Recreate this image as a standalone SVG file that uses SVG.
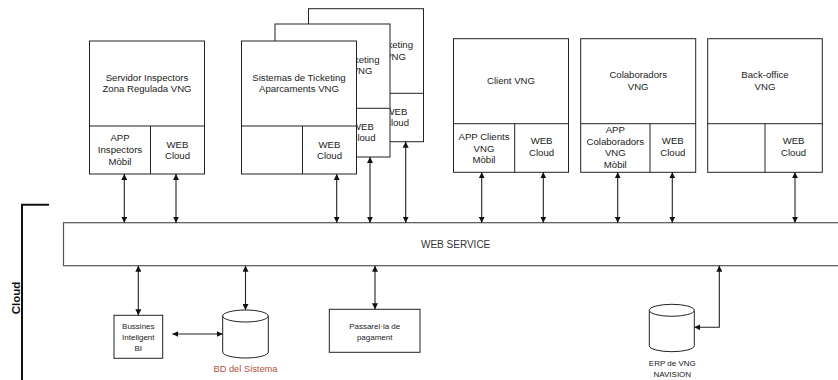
<svg xmlns="http://www.w3.org/2000/svg" width="838" height="380" viewBox="0 0 838 380">
<style>
.box{fill:#fff;stroke:#222;stroke-width:1}
.ln{fill:none;stroke:#222;stroke-width:1}
.t{font-family:"Liberation Sans",Arial,sans-serif;font-size:9.6px;fill:#222;text-anchor:middle}
.e{font-family:"Liberation Sans",Arial,sans-serif;font-size:9.6px;fill:#222;text-anchor:end}
.s{font-family:"Liberation Sans",Arial,sans-serif;font-size:8px;fill:#222;text-anchor:middle}
.c{fill:none;stroke:#222;stroke-width:1.1;marker-start:url(#ah);marker-end:url(#ah)}
</style>
<defs>
<marker id="ah" viewBox="0 0 10 10" refX="10" refY="5" markerWidth="6" markerHeight="6" markerUnits="userSpaceOnUse" orient="auto-start-reverse">
<path d="M0,0 L10,5 L0,10 z" fill="#111"/>
</marker>
</defs>
<rect x="0" y="0" width="838" height="380" fill="#fff"/>

<g id="cloud">
<path d="M49,204.7 H22 V380" fill="none" stroke="#111" stroke-width="2"/>
<text x="19.8" y="298" transform="rotate(-90 19.8 298)" style="font-family:'Liberation Sans',Arial,sans-serif;font-size:11.5px;font-weight:bold;fill:#111;text-anchor:middle">Cloud</text>
</g>

<g id="servidor-inspectors">
<rect class="box" x="89.5" y="41" width="115" height="133"/>
<path class="ln" d="M89.5,126 H204.5 M150.5,126 V174"/>
<text class="t" x="147" y="80.7">Servidor Inspectors</text>
<text class="t" x="147" y="91.7">Zona Regulada VNG</text>
<text class="t" x="120" y="140.7">APP</text>
<text class="t" x="120" y="152.7">Inspectors</text>
<text class="t" x="120" y="164.7">Mòbil</text>
<text class="t" x="177.5" y="147.7">WEB</text>
<text class="t" x="177.5" y="158.5">Cloud</text>
</g>

<g id="ticketing-3">
<rect class="box" x="308.5" y="8.7" width="115" height="133"/>
<path class="ln" d="M308.5,93.3 H423.5"/>
<text class="e" x="413" y="47.7">Ticketing</text>
<text class="e" x="406" y="60">VNG</text>
<text class="t" x="396.5" y="115">WEB</text>
<text class="t" x="396.5" y="126">Cloud</text>
</g>

<g id="ticketing-2">
<rect class="box" x="275" y="24" width="115" height="133"/>
<path class="ln" d="M275,108.3 H390"/>
<text class="e" x="379.5" y="63.4">Ticketing</text>
<text class="e" x="372.5" y="74.4">VNG</text>
<text class="t" x="363" y="130">WEB</text>
<text class="t" x="363" y="141">Cloud</text>
</g>

<g id="ticketing-1">
<rect class="box" x="241.5" y="41" width="115" height="133"/>
<path class="ln" d="M241.5,126 H356.5 M302.5,126 V174"/>
<text class="t" x="299" y="80.7">Sistemas de Ticketing</text>
<text class="t" x="299" y="91.7">Aparcaments VNG</text>
<text class="t" x="329.5" y="147.7">WEB</text>
<text class="t" x="329.5" y="158.5">Cloud</text>
</g>

<g id="client">
<rect class="box" x="453.5" y="38.7" width="115" height="133.6"/>
<path class="ln" d="M453.5,123.7 H568.5 M514.7,123.7 V172.3"/>
<text class="t" x="511" y="84">Client VNG</text>
<text class="t" x="484" y="140.1">APP Clients</text>
<text class="t" x="484" y="151.7">VNG</text>
<text class="t" x="484" y="163.1">Mòbil</text>
<text class="t" x="541.6" y="144.4">WEB</text>
<text class="t" x="541.6" y="156.1">Cloud</text>
</g>

<g id="colaboradors">
<rect class="box" x="580.7" y="38.7" width="115" height="133.6"/>
<path class="ln" d="M580.7,123.7 H695.7 M650,123.7 V172.3"/>
<text class="t" x="638.2" y="78.4">Colaboradors</text>
<text class="t" x="638.2" y="90.1">VNG</text>
<text class="t" x="615.3" y="133.4">APP</text>
<text class="t" x="615.3" y="145.1">Colaboradors</text>
<text class="t" x="615.3" y="156.1">VNG</text>
<text class="t" x="615.3" y="167.7">Mòbil</text>
<text class="t" x="672.8" y="144.4">WEB</text>
<text class="t" x="672.8" y="156.1">Cloud</text>
</g>

<g id="back-office">
<rect class="box" x="707.7" y="38.7" width="114.6" height="133.6"/>
<path class="ln" d="M707.7,123.7 H822.3 M765,123.7 V172.3"/>
<text class="t" x="765" y="78.4">Back-office</text>
<text class="t" x="765" y="90.1">VNG</text>
<text class="t" x="793.6" y="144.4">WEB</text>
<text class="t" x="793.6" y="156.1">Cloud</text>
</g>

<g id="web-service">
<rect x="63.5" y="222.7" width="800" height="43" fill="#fff" stroke="#555" stroke-width="1.2"/>
<text x="421" y="247.8" style="font-family:'Liberation Sans',Arial,sans-serif;font-size:10px;fill:#333">WEB SERVICE</text>
</g>

<g id="bi">
<rect class="box" x="114" y="315.3" width="48.7" height="43"/>
<text class="s" x="138.3" y="328.5">Bussines</text>
<text class="s" x="138.3" y="339.8">Inteligent</text>
<text class="s" x="138.3" y="350.5">BI</text>
</g>

<g id="bd-sistema">
<path d="M222.7,316 V352 A22.8,6 0 0 0 268.3,352 V316" fill="#fff" stroke="#222"/>
<ellipse cx="245.5" cy="316" rx="22.8" ry="6" fill="#fff" stroke="#222"/>
<text x="245.5" y="371.5" style="font-family:'Liberation Sans',Arial,sans-serif;font-size:9.3px;fill:#b5513a;text-anchor:middle">BD del Sistema</text>
</g>

<g id="passarela">
<rect class="box" x="329.3" y="309.3" width="90.7" height="43"/>
<text class="s" x="374.7" y="328.5">Passarel·la de</text>
<text class="s" x="374.7" y="339.5">pagament</text>
</g>

<g id="erp">
<path d="M649.3,310.3 V345.7 A22.5,6 0 0 0 694.3,345.7 V310.3" fill="#fff" stroke="#222"/>
<ellipse cx="671.8" cy="310.3" rx="22.5" ry="6" fill="#fff" stroke="#222"/>
<text class="s" x="672.3" y="365.5">ERP de VNG</text>
<text class="s" x="672.3" y="377">NAVISION</text>
</g>

<g id="connectors">
<path class="c" d="M124.3,174 V222.7"/>
<path class="c" d="M176,174 V222.7"/>
<path class="c" d="M336.7,174 V222.7"/>
<path class="c" d="M370,157 V222.7"/>
<path class="c" d="M405.7,141.7 V222.7"/>
<path class="c" d="M481.7,172.3 V222.7"/>
<path class="c" d="M543.3,172.3 V222.7"/>
<path class="c" d="M617.7,172.3 V222.7"/>
<path class="c" d="M672.3,172.3 V222.7"/>
<path class="c" d="M795,172.3 V222.7"/>
<path class="c" d="M138.3,265.7 V315.3"/>
<path class="c" d="M245.5,265.7 V310"/>
<path class="c" d="M375,265.7 V309.3"/>
<path class="c" d="M172.3,334 H222.7"/>
<path class="c" d="M719.3,265.7 V327.3 H694.3"/>
</g>
</svg>
